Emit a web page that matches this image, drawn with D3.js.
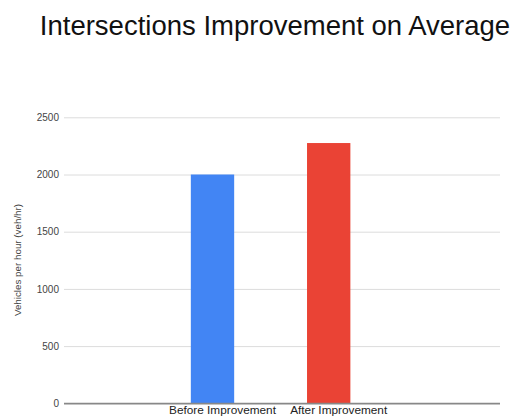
<!DOCTYPE html>
<html><head><meta charset="utf-8">
<script src="https://cdn.jsdelivr.net/npm/d3@7"></script>
<style>body{margin:0;background:#fff;} svg{display:block;}</style>
</head><body>
<svg id="chart" width="526" height="416"></svg>
<script>
const title = "Intersections Improvement on Average";
const yAxisTitle = "Vehicles per hour (veh/hr)";
const categories = ["Before Improvement", "After Improvement"];
const values = [2000, 2275];
const barColors = ["#4285F4", "#EA4335"];
const yTicks = [0, 500, 1000, 1500, 2000, 2500];

const svg = d3.select("#chart");
const font = "Liberation Sans, Arial, sans-serif";

const x = d3.scaleBand().domain(categories).range([154.4, 386.8]).paddingInner(0.627).paddingOuter(0.3135);
const y = d3.scaleLinear().domain([0, 2500]).range([403.3, 117.3]);

svg.append("text").attr("x", 275).attr("y", 34.5).attr("text-anchor", "middle")
  .attr("font-family", font).attr("font-size", 27.5).attr("fill", "#111").text(title);

// gridlines
const yAxis = d3.axisLeft(y).tickValues(yTicks).tickSize(-436).tickPadding(5).tickFormat(d3.format("d"));
const gy = svg.append("g").attr("transform", "translate(64,0)").call(yAxis);
gy.select(".domain").remove();
gy.selectAll(".tick line").attr("stroke", d => d === 0 ? "#888" : "#dcdcdc").attr("stroke-width", d => d === 0 ? 1.2 : 1);
gy.selectAll(".tick text").attr("font-family", font).attr("font-size", 10).attr("fill", "#444");

svg.append("g").selectAll("rect").data(categories).join("rect")
  .attr("x", d => x(d)).attr("width", x.bandwidth())
  .attr("y", (d, i) => y(values[i])).attr("height", (d, i) => y(0) - y(values[i]))
  .attr("fill", (d, i) => barColors[i]);

// re-draw baseline on top
svg.append("line").attr("x1", 64).attr("x2", 500).attr("y1", y(0)).attr("y2", y(0)).attr("stroke", "#888").attr("stroke-width", 1.2);

svg.append("g").selectAll("text").data(categories).join("text")
  .attr("x", d => x(d) + x.bandwidth() / 2 + 10).attr("y", 414)
  .attr("text-anchor", "middle").attr("font-family", font).attr("font-size", 11.8).attr("fill", "#222")
  .text(d => d);

svg.append("text").attr("transform", "translate(21,260) rotate(-90)").attr("text-anchor", "middle")
  .attr("font-family", font).attr("font-size", 9.8).attr("fill", "#444").text(yAxisTitle);
</script>
</body></html>
